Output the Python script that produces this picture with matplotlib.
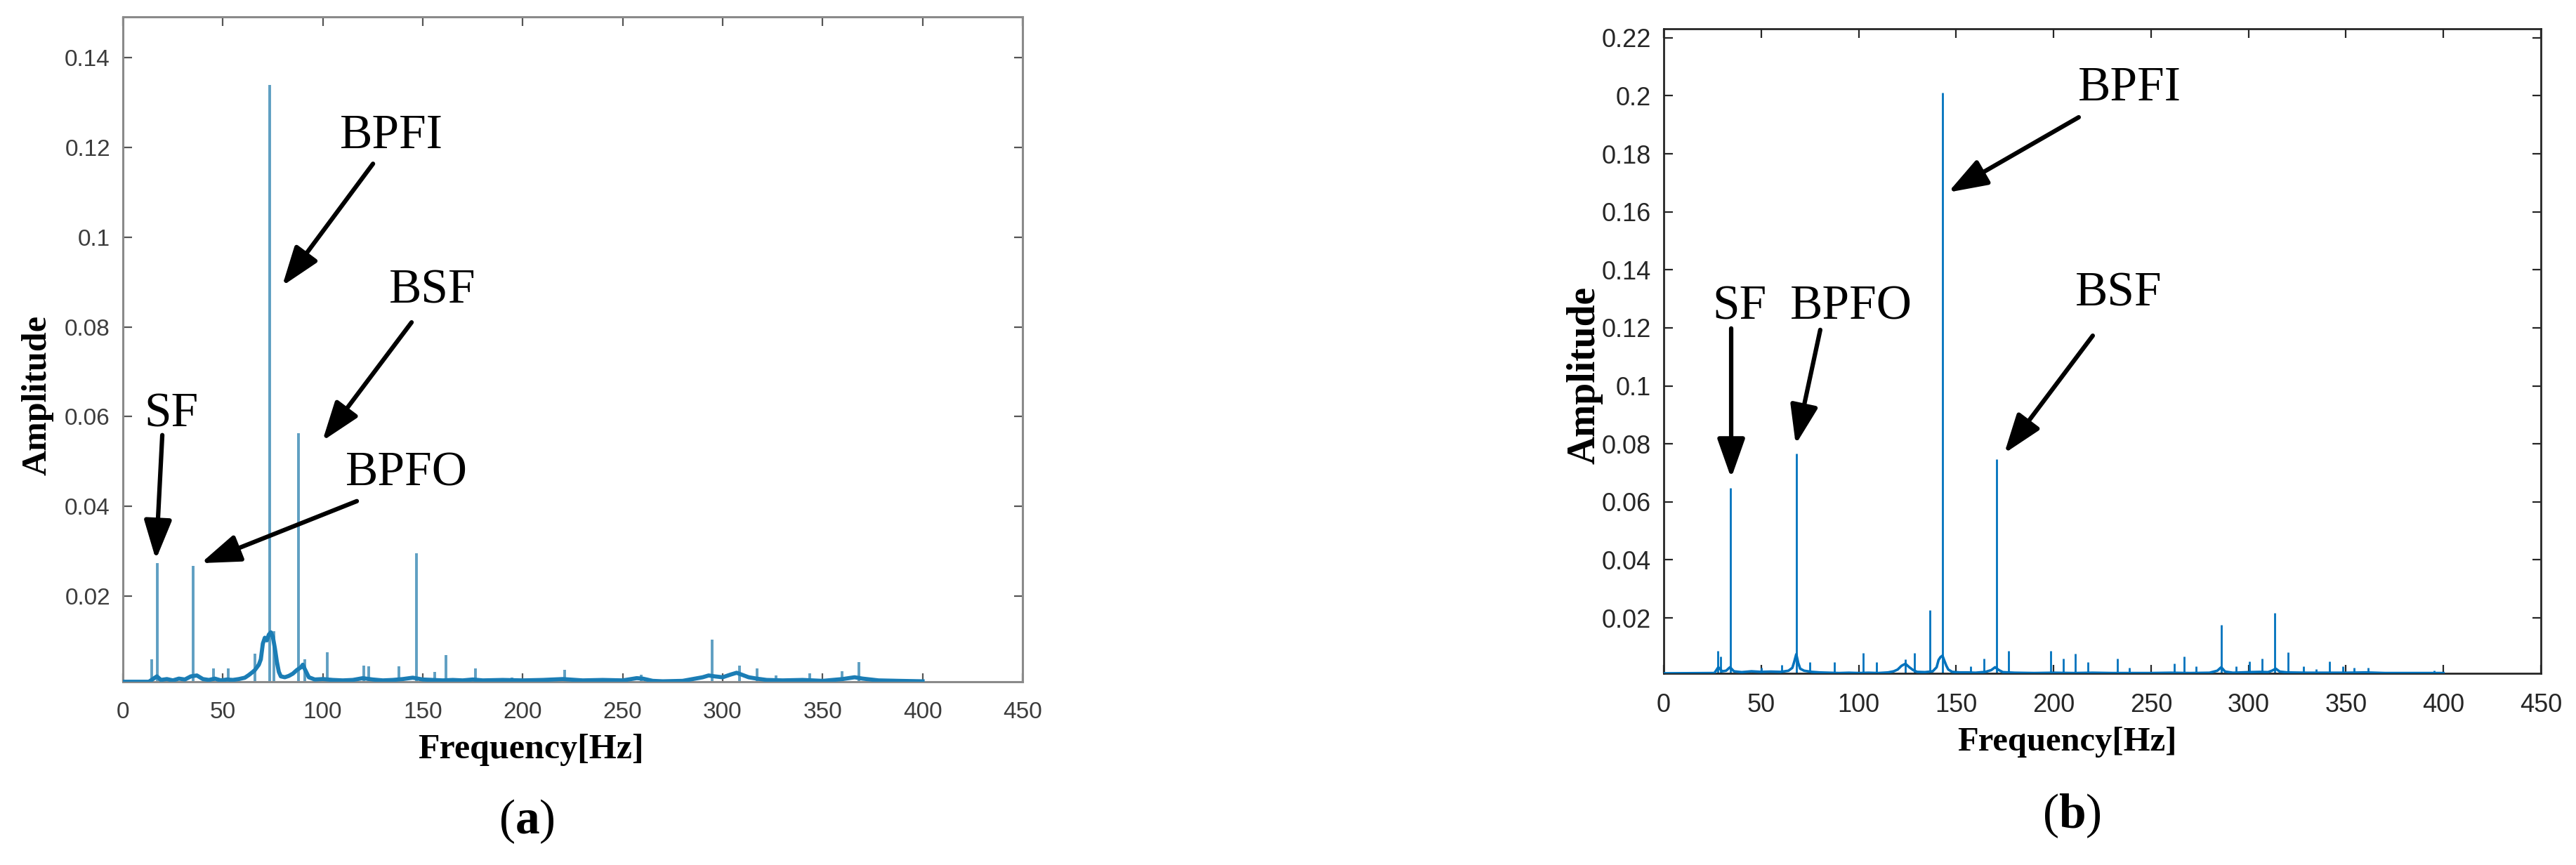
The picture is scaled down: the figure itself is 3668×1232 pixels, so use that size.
import matplotlib
matplotlib.use("Agg")
import matplotlib.pyplot as plt
from matplotlib.ticker import FixedLocator, FuncFormatter

plt.rcParams["mathtext.fontset"] = "custom"
plt.rcParams["mathtext.rm"] = "Liberation Serif"
plt.rcParams["mathtext.bf"] = "Liberation Serif:bold"

# ---------------- data ----------------
# Panel (a): noise floor of the envelope spectrum
floor_a_hz = [0, 13, 15, 17, 19, 22, 25, 28, 31, 34, 37, 40, 43, 46, 49, 52, 55, 58, 61, 63,
              65, 66, 67, 68, 69, 70, 71, 72, 73, 74, 75, 76, 77, 78, 79, 81, 83, 85, 87, 89,
              90, 91, 93, 96, 100, 105, 110, 115, 120, 125, 130, 135, 140, 145, 150, 155, 160,
              165, 170, 175, 180, 190, 200, 210, 220, 230, 240, 250, 257, 260, 265, 270, 280,
              285, 290, 293, 296, 300, 304, 307, 310, 313, 317, 322, 330, 340, 350, 360, 366,
              370, 378, 388, 400]
floor_a_amp = [0.0010, 0.0010, 0.0016, 0.0022, 0.0014, 0.0016, 0.0013, 0.0017, 0.0015, 0.0022,
               0.0024, 0.0016, 0.0014, 0.0017, 0.0013, 0.0015, 0.0014, 0.0016, 0.0019, 0.0025,
               0.0032, 0.0036, 0.0042, 0.0048, 0.0060, 0.0095, 0.0108, 0.0102, 0.0115, 0.0120,
               0.0110, 0.0085, 0.0055, 0.0032, 0.0022, 0.0020, 0.0023, 0.0028, 0.0036, 0.0042,
               0.0048, 0.0038, 0.0020, 0.0015, 0.0016, 0.0014, 0.0013, 0.0014, 0.0018, 0.0015,
               0.0013, 0.0014, 0.0016, 0.0019, 0.0015, 0.0014, 0.0013, 0.0014, 0.0013, 0.0015,
               0.0013, 0.0014, 0.0013, 0.0014, 0.0016, 0.0013, 0.0014, 0.0013, 0.0018, 0.0017,
               0.0012, 0.0011, 0.0012, 0.0016, 0.0020, 0.0024, 0.0022, 0.0020, 0.0026, 0.0030,
               0.0025, 0.0020, 0.0017, 0.0014, 0.0013, 0.0014, 0.0012, 0.0016, 0.0020, 0.0017,
               0.0013, 0.0012, 0.0011]
# Panel (a): spectral lines
peak_a_hz = [14.4, 17.2, 35.0, 45.2, 52.6, 66.1, 73.4, 75.4, 87.8, 91.0, 102.3, 120.5, 123.0,
             138.2, 146.9, 156.0, 161.5, 176.3, 194.6, 220.8, 259.4, 294.7, 308.5, 317.2,
             326.7, 343.5, 359.6, 368.0]
peak_a_amp = [0.0060, 0.0274, 0.0268, 0.0040, 0.0040, 0.0072, 0.1338, 0.0122, 0.0564, 0.0060,
              0.0075, 0.0046, 0.0044, 0.0044, 0.0296, 0.0032, 0.0070, 0.0040, 0.0020, 0.0036,
              0.0026, 0.0104, 0.0046, 0.0040, 0.0024, 0.0028, 0.0034, 0.0054]

# Panel (b): noise floor
floor_b_hz = [0, 26, 28, 30, 32, 34, 36, 40, 45, 50, 55, 60, 64, 66, 67, 68, 69, 70, 72, 76,
              80, 85, 90, 95, 100, 105, 110, 115, 118, 120, 122, 124, 126, 128, 130, 134, 138,
              140, 141, 142, 143, 144, 145, 146, 148, 152, 156, 160, 165, 168, 170, 172, 174,
              180, 190, 200, 210, 220, 230, 240, 250, 260, 270, 280, 284, 286, 288, 292, 300,
              306, 310, 312, 314, 316, 320, 330, 340, 350, 360, 370, 380, 390, 400]
floor_b_amp = [0.0009, 0.0010, 0.0030, 0.0016, 0.0018, 0.0030, 0.0016, 0.0013, 0.0016, 0.0014,
               0.0015, 0.0014, 0.0018, 0.0028, 0.0050, 0.0075, 0.0045, 0.0025, 0.0018, 0.0014,
               0.0012, 0.0011, 0.0010, 0.0011, 0.0010, 0.0011, 0.0010, 0.0012, 0.0016, 0.0022,
               0.0035, 0.0042, 0.0030, 0.0020, 0.0014, 0.0013, 0.0016, 0.0030, 0.0055, 0.0065,
               0.0070, 0.0052, 0.0035, 0.0022, 0.0014, 0.0012, 0.0012, 0.0011, 0.0014, 0.0020,
               0.0030, 0.0020, 0.0013, 0.0011, 0.0010, 0.0011, 0.0010, 0.0011, 0.0010, 0.0010,
               0.0010, 0.0011, 0.0010, 0.0011, 0.0018, 0.0030, 0.0015, 0.0011, 0.0013, 0.0014,
               0.0013, 0.0018, 0.0025, 0.0015, 0.0012, 0.0011, 0.0011, 0.0011, 0.0012, 0.0010,
               0.0010, 0.0010, 0.0010]
peak_b_hz = [27.8, 29.1, 34.1, 50.2, 60.6, 68.2, 74.8, 87.5, 102.3, 109.0, 123.8, 128.5, 136.7,
             143.0, 157.6, 164.2, 170.8, 176.8, 198.6, 205.0, 211.3, 217.6, 232.7, 239.0,
             262.1, 266.8, 273.2, 286.1, 293.7, 300.6, 306.9, 313.6, 320.2, 328.4, 334.7,
             341.7, 348.3, 354.3, 361.3, 395.4]
peak_b_amp = [0.0086, 0.0067, 0.0648, 0.0029, 0.0038, 0.0766, 0.0048, 0.0048, 0.0080, 0.0048,
              0.0057, 0.0080, 0.0227, 0.2010, 0.0032, 0.0061, 0.0747, 0.0086, 0.0086, 0.0061,
              0.0076, 0.0048, 0.0061, 0.0029, 0.0042, 0.0067, 0.0032, 0.0175, 0.0034, 0.0051,
              0.0061, 0.0217, 0.0082, 0.0032, 0.0023, 0.0051, 0.0032, 0.0029, 0.0029, 0.0019]

x_ticks = [0, 50, 100, 150, 200, 250, 300, 350, 400, 450]
y_ticks_a = [0.02, 0.04, 0.06, 0.08, 0.10, 0.12, 0.14]
y_ticks_b = [0.02, 0.04, 0.06, 0.08, 0.10, 0.12, 0.14, 0.16, 0.18, 0.20, 0.22]

# annotations: label, text position, arrow tail, arrow tip (data coords)
ann_a = [("BPFI", (134.5, 0.1224), (125.1, 0.1163), (79.7, 0.0891)),
         ("BSF", (154.9, 0.0879), (144.4, 0.0810), (99.8, 0.0546)),
         ("SF", (24.2, 0.0605), (19.7, 0.0559), (16.5, 0.0282)),
         ("BPFO", (141.9, 0.0473), (117.0, 0.0412), (39.0, 0.0274))]
ann_b = [("BPFI", (239.2, 0.2025), (212.9, 0.1926), (145.9, 0.1667)),
         ("BSF", (233.5, 0.1316), (220.1, 0.1173), (174.7, 0.0767)),
         ("SF", (38.9, 0.1270), (34.6, 0.1198), (34.6, 0.0682)),
         ("BPFO", (96.2, 0.1270), (80.3, 0.1193), (67.7, 0.0798))]

# ---------------- figure ----------------
W, H = 3668, 1232
fig = plt.figure(figsize=(W / 100, H / 100), dpi=100)
fig.patch.set_facecolor("white")

ax_a = fig.add_axes([175 / W, 1 - 971 / H, 1281 / W, 947 / H])
ax_b = fig.add_axes([2369 / W, 1 - 959 / H, 1249 / W, 918 / H])

serif = ["Liberation Serif", "DejaVu Serif"]
sans = ["Liberation Sans", "DejaVu Sans"]
fmt = FuncFormatter(lambda v, p: ("%g" % round(v, 4)))


def style_axes(ax, ylim, yticks, spine_col, tick_col, lab_col, fs, spine_lw):
    ax.set_xlim(0, 450)
    ax.set_ylim(*ylim)
    ax.xaxis.set_major_locator(FixedLocator(x_ticks))
    ax.yaxis.set_major_locator(FixedLocator(yticks))
    ax.xaxis.set_major_formatter(fmt)
    ax.yaxis.set_major_formatter(fmt)
    for s in ax.spines.values():
        s.set_color(spine_col)
        s.set_linewidth(spine_lw)
    ax.tick_params(axis="both", which="major", direction="in", length=9, width=1.6,
                   color=tick_col, labelcolor=lab_col, labelsize=fs,
                   top=True, right=True)
    ax.tick_params(axis="x", pad=20)
    ax.tick_params(axis="y", pad=13)
    for lab in ax.get_xticklabels() + ax.get_yticklabels():
        lab.set_family(sans)


def draw_annotations(ax, anns):
    for lab, tpos, tail, tip in anns:
        ax.text(tpos[0], tpos[1], lab, family=serif, fontsize=50, color="black",
                ha="center", va="center")
        ax.annotate("", xy=tip, xytext=tail, xycoords="data", textcoords="data",
                    arrowprops=dict(arrowstyle="-|>,head_length=1.7,head_width=0.6",
                                    mutation_scale=20, lw=4.5, color="black",
                                    shrinkA=0, shrinkB=0))


# panel (a)
ylim_a = (0.001, 0.149)
ax_a.vlines(peak_a_hz, ylim_a[0], peak_a_amp, color="#5f9fc2", lw=2.8, zorder=2)
ax_a.plot(floor_a_hz, floor_a_amp, color="#1b7db5", lw=4.2, zorder=3)
style_axes(ax_a, ylim_a, y_ticks_a, "#8a8a8a", "#555555", "#3c3c3c", 24, 2.2)
ax_a.set_xlabel("Frequency[Hz]", family=serif, fontweight="bold", fontsize=36)
ax_a.xaxis.set_label_coords(0.4535, -0.1024)
ax_a.xaxis.label.set_va("center")
ax_a.set_ylabel("Amplitude", family=serif, fontweight="bold", fontsize=36)
ax_a.yaxis.set_label_coords(-0.0952, 0.431)
ax_a.yaxis.label.set_va("center")
draw_annotations(ax_a, ann_a)

# panel (b)
ylim_b = (0.0009, 0.2231)
ax_b.vlines(peak_b_hz, ylim_b[0], peak_b_amp, color="#0072BD", lw=2.0, zorder=2)
ax_b.plot(floor_b_hz, floor_b_amp, color="#0072BD", lw=2.6, zorder=3)
style_axes(ax_b, ylim_b, y_ticks_b, "#262626", "#262626", "#262626", 26, 2.0)
ax_b.set_xlabel("Frequency[Hz]", family=serif, fontweight="bold", fontsize=35)
ax_b.xaxis.set_label_coords(0.4596, -0.1068)
ax_b.xaxis.label.set_va("center")
ax_b.set_ylabel("Amplitude", family=serif, fontweight="bold", fontsize=40)
ax_b.yaxis.set_label_coords(-0.0897, 0.462)
ax_b.yaxis.label.set_va("center")
draw_annotations(ax_b, ann_b)

# sub-figure labels
fig.text(750 / W, 1 - 1170 / H, r"$(\mathbf{a})$", fontsize=50,
         ha="center", va="center")
fig.text(2950 / W, 1 - 1162 / H, r"$(\mathbf{b})$", fontsize=50,
         ha="center", va="center")

fig.savefig("out.png", dpi=100, facecolor="white")
